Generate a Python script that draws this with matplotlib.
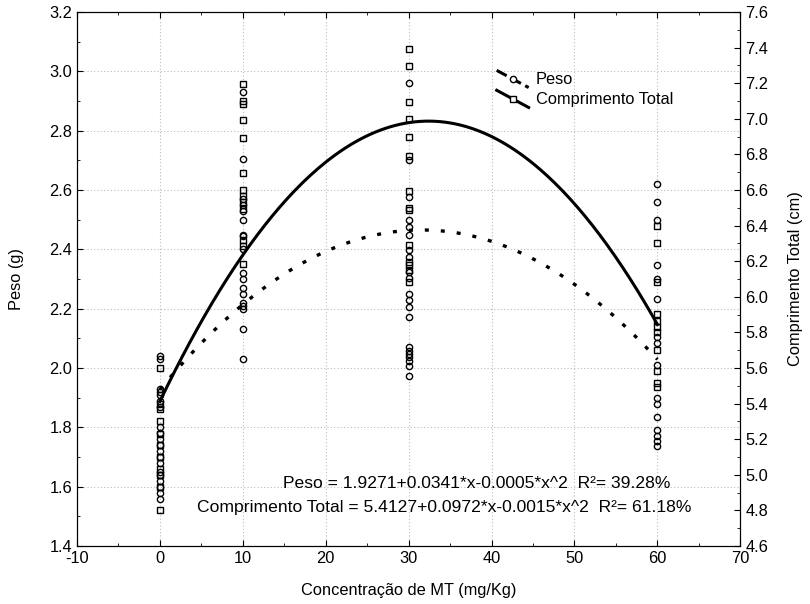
import numpy as np
import matplotlib
matplotlib.use("Agg")
import matplotlib.pyplot as plt
from matplotlib.ticker import MultipleLocator, FormatStrFormatter
from matplotlib.lines import Line2D
from matplotlib.legend_handler import HandlerBase

plt.rcParams['font.family'] = ['Liberation Sans', 'DejaVu Sans']
plt.rcParams['font.size'] = 11.8
plt.rcParams['axes.unicode_minus'] = False

# concentration levels (mg/Kg)
peso_x0 = [2.04, 2.03, 1.93, 1.92, 1.91, 1.89, 1.87, 1.80, 1.78, 1.76, 1.74,
           1.72, 1.70, 1.68, 1.65, 1.64, 1.62, 1.60, 1.58, 1.56]
peso_x10 = [2.93, 2.705, 2.57, 2.55, 2.53, 2.50, 2.45, 2.445, 2.40, 2.32, 2.30,
            2.27, 2.25, 2.22, 2.21, 2.20, 2.13, 2.03]
peso_x30 = [2.96, 2.70, 2.575, 2.50, 2.477, 2.449, 2.398, 2.375, 2.324, 2.302,
            2.25, 2.228, 2.206, 2.172, 2.07, 2.059, 2.047, 2.036, 2.023, 2.008, 1.974]
peso_x60 = [2.62, 2.56, 2.50, 2.349, 2.30, 2.234, 2.103, 2.086, 2.01, 1.90,
            1.88, 1.834, 1.79, 1.77, 1.755, 1.737]

ct_x0 = [5.60, 5.40, 5.37, 5.30, 5.23, 5.17, 5.10, 5.03, 5.00, 4.93, 4.80]
ct_x10 = [7.197, 7.10, 7.083, 6.995, 6.895, 6.695, 6.60, 6.567, 6.533, 6.495,
          6.317, 6.283, 6.183]
ct_x30 = [7.395, 7.298, 7.097, 7.0, 6.897, 6.793, 6.595, 6.50, 6.488, 6.292,
          6.197, 6.178, 6.15, 6.083]
ct_x60 = [6.40, 6.30, 6.083, 5.905, 5.867, 5.828, 5.80, 5.70, 5.583, 5.517, 5.493]

levels = [0, 10, 30, 60]
peso_groups = [peso_x0, peso_x10, peso_x30, peso_x60]
ct_groups = [ct_x0, ct_x10, ct_x30, ct_x60]

# quadratic fits a + b*x + c*x^2
peso_coef = [1.9271, 0.0341, -0.00054]
ct_coef = [5.4127, 0.0972, -0.0015]

eq_peso = "Peso = 1.9271+0.0341*x-0.0005*x^2  R\u00b2= 39.28%"
eq_ct = "Comprimento Total = 5.4127+0.0972*x-0.0015*x^2  R\u00b2= 61.18%"

dot_style = (0, (1.2, 3.6))


class DiagHandler(HandlerBase):
    # statistica style legend key: slanted line with the marker in the middle
    def create_artists(self, legend, orig_handle, xdescent, ydescent,
                       width, height, fontsize, trans):
        x0 = -xdescent
        y0 = -ydescent
        ln = Line2D([x0, x0 + width], [y0 + height * 1.2, y0 - height * 0.3],
                    color='k', lw=orig_handle.get_linewidth(),
                    ls=orig_handle.get_linestyle())
        mk = Line2D([x0 + width / 2], [y0 + height * 0.45],
                    marker=orig_handle.get_marker(), mfc='white', mec='k',
                    ms=orig_handle.get_markersize(), ls='none')
        ln.set_transform(trans)
        mk.set_transform(trans)
        return [ln, mk]


fig = plt.figure(figsize=(8.1, 6.04), dpi=100)
ax = fig.add_axes([0.095, 0.096, 0.819, 0.884])
ax2 = ax.twinx()

px = np.concatenate([[lv] * len(g) for lv, g in zip(levels, peso_groups)])
py = np.concatenate(peso_groups)
cx = np.concatenate([[lv] * len(g) for lv, g in zip(levels, ct_groups)])
cy = np.concatenate(ct_groups)

xs = np.linspace(0, 60, 200)
ax.plot(px, py, 'o', mfc='none', mec='k', ms=4.5, mew=1.0, zorder=3)
ax.plot(xs, peso_coef[0] + peso_coef[1] * xs + peso_coef[2] * xs ** 2,
        color='k', lw=2.4, ls=dot_style, zorder=3)
ax2.plot(cx, cy, 's', mfc='none', mec='k', ms=5, mew=1.0, zorder=3)
ax2.plot(xs, ct_coef[0] + ct_coef[1] * xs + ct_coef[2] * xs ** 2,
         color='k', lw=2.2, zorder=3)

ax.set_xlim(-10, 70)
ax.set_ylim(1.4, 3.2)
ax2.set_ylim(4.6, 7.6)
ax.xaxis.set_major_locator(MultipleLocator(10))
ax.xaxis.set_minor_locator(MultipleLocator(5))
ax.yaxis.set_major_locator(MultipleLocator(0.2))
ax.yaxis.set_minor_locator(MultipleLocator(0.1))
ax.yaxis.set_major_formatter(FormatStrFormatter('%.1f'))
ax2.yaxis.set_major_locator(MultipleLocator(0.2))
ax2.yaxis.set_minor_locator(MultipleLocator(0.1))
ax2.yaxis.set_major_formatter(FormatStrFormatter('%.1f'))
ax.tick_params(which='both', direction='in', top=True, length=4)
ax.tick_params(which='minor', length=2.5)
ax2.tick_params(which='both', direction='in', length=4)
ax2.tick_params(which='minor', length=2.5)
ax.grid(True, which='major', color='#bbbbbb', ls=(0, (1, 2)), lw=0.8)

ax.set_xlabel("Concentração de MT (mg/Kg)", labelpad=12)
ax.set_ylabel("Peso (g)", labelpad=18)
ax2.set_ylabel("Comprimento Total (cm)", labelpad=14)

h1 = Line2D([], [], color='k', lw=2.2, ls=(0, (1.2, 3.0)), marker='o', ms=4.5)
h2 = Line2D([], [], color='k', lw=2.2, ls='-', marker='s', ms=5)
fig.legend([h1, h2], ["Peso", "Comprimento Total"], loc='upper left',
           bbox_to_anchor=(0.595, 0.905), frameon=False, handlelength=1.95,
           handletextpad=0.45, labelspacing=0.3,
           handler_map={h1: DiagHandler(), h2: DiagHandler()})

fig.text(0.349, 0.200, eq_peso, ha='left', va='center', fontsize=12.6)
fig.text(0.243, 0.159, eq_ct, ha='left', va='center', fontsize=12.6)

fig.savefig("out.png", dpi=100)
